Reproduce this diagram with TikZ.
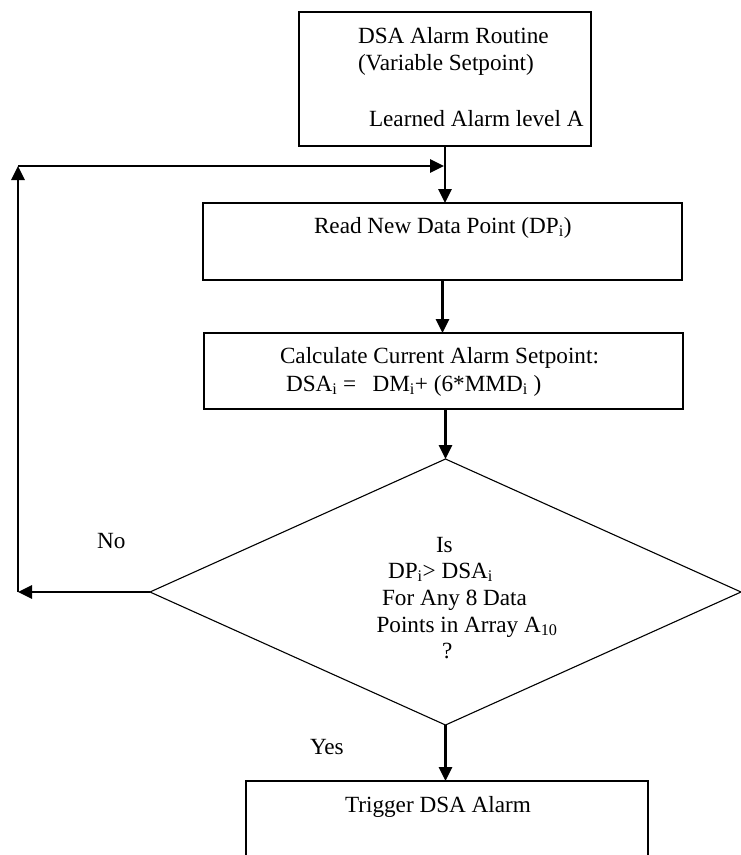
\documentclass[tikz,border=0pt]{standalone}
\usepackage{fontspec}
\setmainfont{Liberation Serif}
\usetikzlibrary{arrows.meta,shapes.geometric}
\begin{document}
\begin{tikzpicture}[x=1pt,y=-1pt,
  every node/.style={font=\fontsize{23.2}{27.7}\selectfont, inner sep=0pt, outer sep=0pt},
  procbox/.style={draw, line width=1.3pt, rectangle},
  decbox/.style={draw, line width=1.1pt, diamond},
  txt/.style={anchor=base west},
  flow/.style={line width=2.8pt, -{Triangle[length=14pt,width=13pt]}}
]
\useasboundingbox (0,0) rectangle (741,855);
\clip (0,0) rectangle (741,855);

% process boxes and the decision
\node[procbox, minimum width=292pt, minimum height=134pt] (start) at (445,79) {};
\node[procbox, minimum width=479pt, minimum height=77pt] (read) at (442.5,241.5) {};
\node[procbox, minimum width=479pt, minimum height=76pt] (calc) at (443.5,371) {};
\node[decbox, minimum width=591pt, minimum height=266pt] (dec) at (445.5,592) {};
\node[procbox, minimum width=402pt, minimum height=130pt] (trig) at (447,846) {};

% texts
\node[txt] (s1) at (358,43) {DSA Alarm Routine};
\node[txt] (s2) at (358,70.7) {(Variable Setpoint)};
\node[txt] (s3) at (369,126) {Learned Alarm level A};
\node[txt] (r1) at (314,233) {Read New Data Point (DP\textsubscript{i})};
\node[txt] (c1) at (280,363) {Calculate Current Alarm Setpoint:};
\node[txt] (c2) at (286,391) {DSA\textsubscript{i} =\hspace{0.7em}DM\textsubscript{i}+ (6*MMD\textsubscript{i} )};
\node[txt] (d1) at (436,552) {Is};
\node[txt] (d2) at (388,578) {DP\textsubscript{i}> DSA\textsubscript{i}};
\node[txt] (d3) at (382,605) {For Any 8 Data};
\node[txt] (d4) at (376.5,632) {Points in Array A\textsubscript{10}};
\node[txt] (d5) at (442,658) {?};
\node[txt] (t1) at (345,812) {Trigger DSA Alarm};
\node[txt] (yes) at (310,754) {Yes};
\node[txt] (no) at (97,548) {No};

% loop-back corners
\coordinate (lb) at (18,592);
\coordinate (lt) at (18,166);
\coordinate (le) at (444,166);

% connectors
\draw[flow] (start.south) -- (start.south |- read.north);
\draw[flow] (read.south) -- (read.south |- calc.north);
\draw[flow] (calc.south -| dec.north) -- (dec.north);
\draw[flow] (dec.south) -- (dec.south |- trig.north);
\draw[flow] (dec.west) -- (lb);
\draw[flow] (lb) -- (lt);
\draw[flow] (lt) -- (le);
\end{tikzpicture}
\end{document}
